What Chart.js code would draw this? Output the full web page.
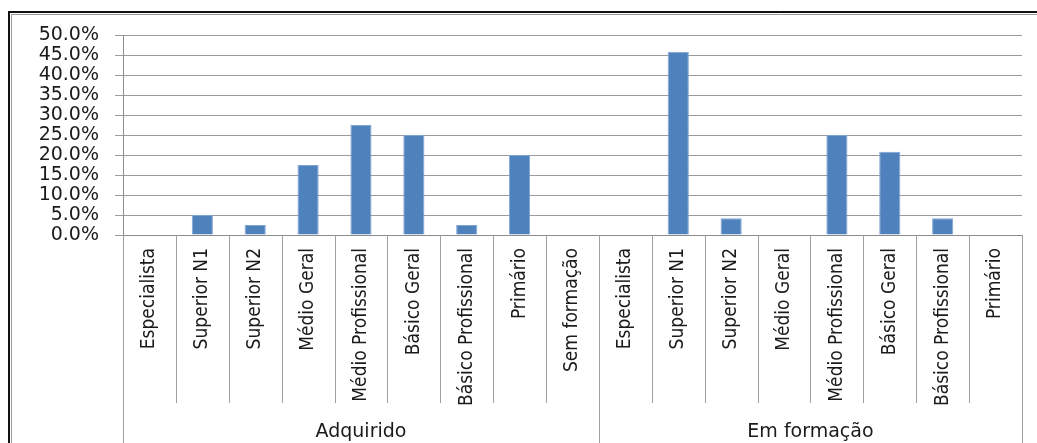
<!DOCTYPE html>
<html>
<head>
<meta charset="utf-8">
<script src="https://cdn.jsdelivr.net/npm/chart.js@4.4.1/dist/chart.umd.min.js"></script>
<style>
  html, body { margin: 0; padding: 0; background: #fff; }
  canvas { display: block; }
</style>
</head>
<body>
<canvas id="chart" width="1037" height="443"></canvas>
<script>
// Categories, two groups (9 + 8)
const categories = [
  "Especialista", "Superior N1", "Superior N2", "Médio Geral", "Médio Profissional",
  "Básico Geral", "Básico Profissional", "Primário", "Sem formação",
  "Especialista", "Superior N1", "Superior N2", "Médio Geral", "Médio Profissional",
  "Básico Geral", "Básico Profissional", "Primário"
];
const groupNames = ["Adquirido", "Em formação"];
const groupSizes = [9, 8];

// Share of each level, in percent
const values = [0, 5.0, 2.5, 17.5, 27.5, 25.0, 2.5, 20.0, 0, 0, 45.8, 4.2, 0, 25.0, 20.8, 4.2, 0];

const yTicks = [0, 5, 10, 15, 20, 25, 30, 35, 40, 45, 50];

const labelFont = '"Liberation Sans Narrow", "DejaVu Sans Condensed", sans-serif';
const axisFont = '"DejaVu Sans", Verdana, sans-serif';

// Separators between categories, longer ones between groups, plus group names and frame
const groupAxis = {
  id: "groupAxis",
  afterDraw(chart) {
    const ctx = chart.ctx;
    const x = chart.scales.x;
    const area = chart.chartArea;
    const n = categories.length;
    const edge = i => {
      if (i === 0) return area.left;
      if (i === n) return area.right;
      return (x.getPixelForValue(i - 1) + x.getPixelForValue(i)) / 2;
    };

    const groupEdges = [0];
    groupSizes.forEach(s => groupEdges.push(groupEdges[groupEdges.length - 1] + s));

    ctx.save();
    ctx.strokeStyle = "#a0a0a0";
    ctx.lineWidth = 1;
    for (let i = 0; i <= n; i++) {
      const px = Math.round(edge(i)) + 0.5;
      const bottom = groupEdges.includes(i) ? chart.height : 403;
      ctx.beginPath();
      ctx.moveTo(px, area.bottom);
      ctx.lineTo(px, bottom);
      ctx.stroke();
    }

    ctx.fillStyle = "#1a1a1a";
    ctx.font = "19px " + axisFont;
    ctx.textAlign = "center";
    ctx.textBaseline = "alphabetic";
    groupNames.forEach((name, g) => {
      const cx = (edge(groupEdges[g]) + edge(groupEdges[g + 1])) / 2;
      ctx.fillText(name, cx, 437);
    });

    // outer frame
    ctx.strokeStyle = "#111";
    ctx.lineWidth = 2;
    ctx.beginPath();
    ctx.moveTo(9, chart.height);
    ctx.lineTo(9, 12);
    ctx.lineTo(chart.width, 12);
    ctx.stroke();
    ctx.strokeStyle = "#9a9a9a";
    ctx.lineWidth = 1;
    ctx.beginPath();
    ctx.moveTo(11.5, chart.height);
    ctx.lineTo(11.5, 14.5);
    ctx.lineTo(chart.width, 14.5);
    ctx.stroke();
    ctx.restore();
  }
};

new Chart(document.getElementById("chart"), {
  type: "bar",
  data: {
    labels: categories,
    datasets: [{
      data: values,
      backgroundColor: "#4f81bd",
      borderColor: "#7fa3d3",
      borderWidth: 1,
      barPercentage: 0.4,
      categoryPercentage: 1.0
    }]
  },
  options: {
    responsive: false,
    animation: false,
    layout: { padding: { top: 35, right: 15, bottom: 0, left: 0 } },
    plugins: {
      legend: { display: false },
      tooltip: { enabled: false }
    },
    scales: {
      x: {
        offset: true,
        grid: { display: false },
        border: { display: true, color: "#8c8c8c" },
        ticks: {
          autoSkip: false,
          minRotation: 90,
          maxRotation: 90,
          padding: 5,
          color: "#1a1a1a",
          font: { family: labelFont, size: 19 }
        },
        afterFit(scale) { scale.height = 208; }
      },
      y: {
        min: 0,
        max: 50,
        afterBuildTicks(scale) { scale.ticks = yTicks.map(v => ({ value: v })); },
        grid: { color: "#9a9a9a", tickLength: 8, drawTicks: true },
        border: { display: true, color: "#8c8c8c" },
        ticks: {
          autoSkip: false,
          padding: 16,
          color: "#1a1a1a",
          font: { family: axisFont, size: 19 },
          callback: v => v.toFixed(1) + "%"
        },
        afterFit(scale) { scale.width = 123; }
      }
    }
  },
  plugins: [groupAxis]
});
</script>
</body>
</html>
